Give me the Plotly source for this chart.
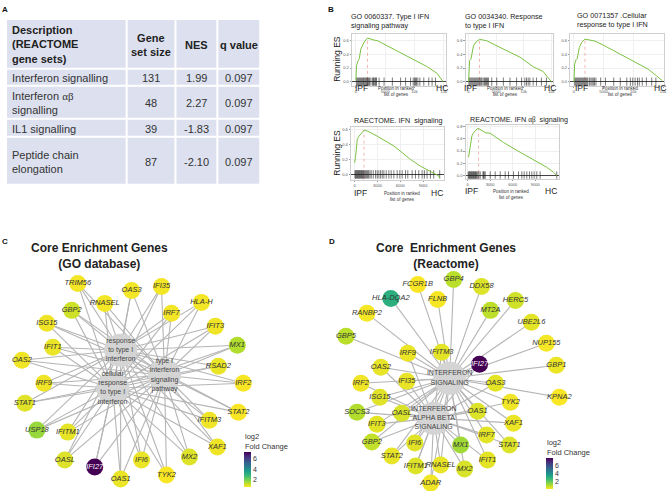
import plotly.graph_objects as go

W, H = 669, 491
FONT = "Liberation Sans, Arial, sans-serif"
TXT = "#333333"

# ---------------- Panel A data ----------------
table_header = ["Description<br>(REACTOME<br>gene sets)", "Gene<br>set size", "NES", "q value"]
gene_sets = ["Interferon signalling", "Interferon <span style='font-family:Liberation Serif'>αβ</span><br>signalling",
             "IL1 signalling", "Peptide chain<br>elongation"]
set_sizes = [131, 48, 39, 87]
nes_values = [1.99, 2.27, -1.83, -2.10]
q_values = [0.097, 0.097, 0.097, 0.097]

# ---------------- Panel B data ----------------
gsea_titles = ["GO 0060337. Type I IFN<br>signaling pathway",
               "GO 0034340. Response<br>to type I IFN",
               "GO 0071357 .Cellular<br>response to type I IFN",
               "RAECTOME. IFN\u00a0\u00a0signaling",
               "REACTOME. IFN <span style='font-family:Liberation Serif'>αβ</span>\u00a0\u00a0signaling"]

es1_x = [0, 110, 400, 570, 850, 1400, 1980, 2550, 3100, 3700, 4800, 7600, 10500, 12200, 13900, 14900]
es1_y = [0.02, 0.24, 0.31, 0.34, 0.48, 0.58, 0.64, 0.62, 0.61, 0.60, 0.55, 0.43, 0.29, 0.22, 0.12, 0.0]
hits1 = [110, 280, 450, 620, 790, 960, 1130, 1300, 1420, 1590, 1750, 1870, 1980, 2150, 2320, 2550,
         2830, 3000, 3110, 3280, 3400, 3510, 3960, 4810, 6230, 7640, 8490, 9340, 9790, 10020, 10190,
         10360, 10590, 10930, 11600, 12450, 13020, 13590]

es2_x = [0, 60, 180, 420, 600, 900, 1380, 1980, 2700, 3300, 4500, 6900, 9300, 11700, 13500, 15000]
es2_y = [0.0, 0.26, 0.31, 0.33, 0.40, 0.53, 0.585, 0.62, 0.61, 0.60, 0.55, 0.45, 0.36, 0.22, 0.15, 0.0]
hits2 = [60, 240, 420, 600, 780, 960, 1140, 1320, 1500, 1680, 1860, 2040, 2220, 2400, 2640, 2880,
         3060, 3240, 3420, 3600, 4200, 5100, 6300, 7500, 8700, 9600, 10200, 10500, 10800, 11100,
         11700, 12300, 13200, 14100]

es3_x = [0, 112, 336, 560, 896, 1288, 1848, 2408, 2968, 3528, 4928, 7728, 10528, 12488, 13888, 14896]
es3_y = [0.0, 0.26, 0.32, 0.34, 0.50, 0.575, 0.625, 0.615, 0.60, 0.595, 0.537, 0.405, 0.283, 0.185, 0.088, 0.015]
hits3 = [110, 280, 450, 620, 790, 960, 1130, 1300, 1470, 1640, 1810, 1980, 2150, 2320, 2600, 2850,
         3050, 3250, 3450, 3700, 4500, 5300, 6700, 7800, 8900, 9500, 9900, 10300, 10700, 11000,
         11500, 12200, 13100, 13800]

es4_x = [0, 131, 349, 568, 1004, 1223, 1659, 2970, 5153, 7336, 8646, 9956, 10611, 11048, 11179]
es4_y = [0.156, 0.24, 0.47, 0.51, 0.56, 0.59, 0.58, 0.51, 0.38, 0.20, 0.11, 0.036, 0.01, -0.02, -0.05]
hits4 = [44, 131, 218, 306, 393, 480, 568, 655, 742, 830, 917, 1004, 1092, 1179, 1310, 1441, 1572,
         1703, 1834, 2009, 2183, 2445, 2751, 2970, 3188, 3406, 3625, 3843, 4149, 4498, 4804, 5153,
         5590, 5939, 6245, 6682, 6987, 7555, 7992, 8428, 8865, 9171, 9520, 9957, 10393, 11179]

es5_x = [133, 354, 576, 798, 1241, 1462, 1905, 2349, 3013, 4786, 7001, 9217, 10546, 11433, 11876]
es5_y = [0.30, 0.51, 0.65, 0.70, 0.76, 0.77, 0.73, 0.70, 0.69, 0.54, 0.38, 0.22, 0.135, 0.054, 0.0]
hits5 = [89, 177, 266, 354, 443, 532, 620, 709, 797, 886, 975, 1063, 1152, 1240, 1373, 1506, 1683,
         2038, 2126, 2215, 2348, 3012, 3677, 4341, 5006, 5449, 6113, 6778, 7221, 7531, 7886, 8240,
         8550, 8860, 9215, 9658, 11873]

gsea_x_ticks = [[0, 5000, 10000, 15000]] * 3 + [[0, 3000, 6000, 9000]] * 2
gsea_y_ticks = [[0.0, 0.2, 0.4, 0.6]] * 4 + [[0.0, 0.2, 0.4, 0.6, 0.8]]

# ---------------- Panel C data ----------------
go_terms = ["response<br>to type I<br>interferon", "type I<br>interferon<br>signaling<br>pathway",
            "cellular<br>response<br>to type I<br>interferon"]
go_genes = ["TRIM56", "OAS3", "IFI35", "RNASEL", "HLA-H", "GBP2", "IRF7", "ISG15", "IFIT3", "MX1",
            "IFIT1", "OAS2", "RSAD2", "IRF9", "IRF2", "STAT1", "STAT2", "IFITM3", "USP18", "IFITM1",
            "XAF1", "MX2", "OASL", "IFI27", "IFI6", "TYK2", "OAS1"]
go_fc = [0.6, 0.6, 0.6, 0.6, 0.6, 1.0, 0.6, 0.65, 0.65, 1.3,
         0.7, 0.65, 0.7, 0.65, 0.55, 0.8, 0.55, 0.65, 1.55, 0.75,
         0.65, 0.85, 0.85, 7.3, 0.7, 0.55, 0.7]
go_fc_limits = [0.5, 7.3]

# ---------------- Panel D data ----------------
reactome_terms = ["INTERFERON<br>SIGNALING", "INTERFERON<br>ALPHA BETA<br>SIGNALING"]
reactome_genes = ["FCGR1B", "GBP4", "DDX58", "HLA-DQA2", "FLNB", "HERC5", "MT2A", "RANBP2", "UBE2L6",
                  "GBP5", "NUP155", "IRF9", "IFITM3", "IFI27", "GBP1", "OAS2", "IRF2", "IFI35", "OAS3",
                  "KPNA2", "ISG15", "TYK2", "SOCS3", "OASL", "OAS1", "XAF1", "IFIT3", "IRF7", "GBP2",
                  "STAT1", "IFI6", "MX1", "STAT2", "IFIT1", "IFITM1", "RNASEL", "MX2", "ADAR"]
reactome_fc = [0.15, 0.9, 0.5, 3.0, 0.2, 0.65, 0.85, 0.2, 0.4,
               0.9, 0.2, 0.3, 0.4, 7.85, 0.3, 0.35, 0.25, 0.35, 0.4,
               0.15, 0.45, 0.25, 1.0, 0.55, 0.5, 0.3, 0.4, 0.4, 0.8,
               0.5, 0.45, 1.2, 0.35, 0.4, 0.5, 0.35, 0.55, 0.25]
reactome_fc_limits = [0.1, 7.85]
alpha_beta_members = ["IRF9", "IFITM3", "IFI27", "OAS2", "IRF2", "IFI35", "OAS3", "ISG15", "TYK2",
                      "SOCS3", "OASL", "OAS1", "XAF1", "IFIT3", "IRF7", "GBP2", "STAT1", "IFI6", "MX1",
                      "STAT2", "IFIT1", "IFITM1", "RNASEL", "MX2", "ADAR"]

# ---------------- layout (pixel positions) ----------------
c_pos = {"TRIM56": (78, 283), "OAS3": (132, 290), "IFI35": (162, 286), "RNASEL": (105, 303),
         "HLA-H": (202, 302), "GBP2": (72, 310), "IRF7": (172, 313), "ISG15": (47, 323),
         "IFIT3": (216, 326), "MX1": (238, 345), "IFIT1": (53, 347), "OAS2": (22, 360),
         "RSAD2": (219, 366), "IRF9": (44, 383), "IRF2": (244, 383), "STAT1": (25, 403),
         "STAT2": (239, 412), "IFITM3": (210, 420), "USP18": (37, 430), "IFITM1": (68, 432),
         "XAF1": (218, 447), "MX2": (190, 457), "OASL": (65, 460), "IFI27": (95, 467),
         "IFI6": (142, 460), "TYK2": (167, 475), "OAS1": (121, 479)}
c_hub_pos = [(121, 350), (165, 375), (113, 388)]
d_pos = {"FCGR1B": (419, 284), "GBP4": (455, 279), "DDX58": (483, 286), "HLA-DQA2": (392, 298),
         "FLNB": (439, 299), "HERC5": (517, 300), "MT2A": (492, 310), "RANBP2": (368, 313),
         "UBE2L6": (533, 322), "GBP5": (347, 336), "NUP155": (548, 343), "IRF9": (409, 353),
         "IFITM3": (443, 352), "IFI27": (481, 364), "GBP1": (558, 365), "OAS2": (382, 367),
         "IRF2": (362, 383), "IFI35": (408, 381), "OAS3": (497, 383), "KPNA2": (561, 397),
         "ISG15": (381, 397), "TYK2": (512, 402), "SOCS3": (358, 412), "OASL": (403, 413),
         "OAS1": (479, 411), "XAF1": (515, 423), "IFIT3": (378, 424), "IRF7": (488, 435),
         "GBP2": (373, 442), "STAT1": (511, 445), "IFI6": (416, 443), "MX1": (462, 445),
         "STAT2": (393, 456), "IFIT1": (489, 460), "IFITM1": (417, 466), "RNASEL": (442, 465),
         "MX2": (466, 469), "ADAR": (432, 483)}
d_hub_pos = [(451, 378), (435, 418)]

fig = go.Figure()
annotations = []
shapes = []


def ann(text, x, y, size, xanchor="center", yanchor="middle", bold=False, color=TXT,
        angle=0, align="center"):
    annotations.append(dict(text=text, x=x / W, y=1 - y / H, xref="paper", yref="paper",
                            xanchor=xanchor, yanchor=yanchor, showarrow=False, textangle=angle,
                            align=align, borderpad=0,
                            font=dict(family=FONT, size=size, color=color,
                                      weight="bold" if bold else "normal")))


# ---------------- Panel A: table ----------------
cols = [(7, 126), (128, 175), (177, 217), (219, 260)]
rows = [(19, 67), (69, 84), (86, 117), (119, 135), (137, 183)]
for (t, b) in rows:
    for (l, r) in cols:
        shapes.append(dict(type="rect", xref="paper", yref="paper", x0=l / W, x1=r / W,
                           y0=1 - b / H, y1=1 - t / H, fillcolor="#dde1ef", line=dict(width=0),
                           layer="below"))
hdr_t, hdr_b = rows[0]
for j, txt in enumerate(table_header):
    yc = (hdr_t + hdr_b) / 2 + 1
    if j == 0:
        ann(txt, cols[0][0] + 4, yc, 11, xanchor="left", bold=True, color="#222", align="left")
    else:
        ann(txt, (cols[j][0] + cols[j][1]) / 2, yc, 11, bold=True, color="#222")
for i in range(len(gene_sets)):
    t, b = rows[i + 1]
    yc = (t + b) / 2 + 1
    ann(gene_sets[i], cols[0][0] + 4, yc, 11, xanchor="left", align="left")
    ann(str(set_sizes[i]), (cols[1][0] + cols[1][1]) / 2, yc, 11)
    ann(f"{nes_values[i]:.2f}", (cols[2][0] + cols[2][1]) / 2, yc, 11)
    ann(f"{q_values[i]:.3f}", (cols[3][0] + cols[3][1]) / 2, yc, 11)

# ---------------- Panel B: GSEA plots ----------------
es_x = [es1_x, es2_x, es3_x, es4_x, es5_x]
es_y = [es1_y, es2_y, es3_y, es4_y, es5_y]
hits = [hits1, hits2, hits3, hits4, hits5]
boxes = [(353, 447, 33, 85), (467, 555, 33, 85), (572, 666, 33, 85),
         (352, 445, 126, 179), (467, 561, 124, 178)]
xranges = [[-682, 15341], [-542, 15361], [-621, 15168], [-485, 11700], [-265, 12212]]
yranges = [[-0.06, 0.70], [-0.06, 0.70], [-0.06, 0.70], [-0.07, 0.636], [-0.05, 0.83]]

layout_axes = {}
for k in range(5):
    n = "" if k == 0 else str(k + 1)
    xa, ya = "x" + n, "y" + n
    l, r, t, b = boxes[k]
    common = dict(showline=True, mirror=True, linecolor="#cfcfcf", linewidth=0.8,
                  showgrid=True, gridcolor="#efefef", gridwidth=0.5,
                  tickfont=dict(family=FONT, size=4, color="#555"),
                  ticks="outside", ticklen=1.5, tickcolor="#999", tickwidth=0.5, fixedrange=True)
    layout_axes["xaxis" + n] = dict(domain=[l / W, r / W], range=xranges[k], anchor=ya,
                                    tickvals=gsea_x_ticks[k], zeroline=False, **common)
    layout_axes["yaxis" + n] = dict(domain=[1 - b / H, 1 - t / H], range=yranges[k], anchor=xa,
                                    tickvals=gsea_y_ticks[k], tickformat=".1f", zeroline=True,
                                    zerolinecolor="#444", zerolinewidth=0.7, **common)
    imax = max(range(len(es_y[k])), key=lambda i: es_y[k][i])
    fig.add_trace(go.Scatter(x=[es_x[k][imax], es_x[k][imax]], y=[yranges[k][0], es_y[k][imax]],
                             mode="lines", line=dict(color="#f3a3a3", width=0.8, dash="dot"),
                             xaxis=xa, yaxis=ya, showlegend=False, hoverinfo="skip"))
    fig.add_trace(go.Scatter(x=hits[k], y=[0] * len(hits[k]), mode="markers",
                             marker=dict(symbol="line-ns", size=6, line=dict(width=0.6, color="#222")),
                             xaxis=xa, yaxis=ya, showlegend=False, hoverinfo="skip"))
    fig.add_trace(go.Scatter(x=es_x[k], y=es_y[k], mode="lines",
                             line=dict(color="#7cc242", width=1),
                             xaxis=xa, yaxis=ya, showlegend=False, hoverinfo="skip"))

TS = 7.2
ann(gsea_titles[0], 351, 10, TS, xanchor="left", yanchor="top", color="#222", align="left")
ann(gsea_titles[1], 465, 10, TS, xanchor="left", yanchor="top", color="#222", align="left")
ann(gsea_titles[2], 578, 9, TS, xanchor="left", yanchor="top", color="#222", align="left")
ann(gsea_titles[3], 400, 120, TS, color="#222")
ann(gsea_titles[4], 521, 119, TS, color="#222")
ann("Running ES", 338, 58, 8.5, angle=-90, color="#222")
ann("Running ES", 338, 152, 8.5, angle=-90, color="#222")
for (xi, xh, xp, yy) in [(363, 443, 397, 87), (472, 552, 507, 87), (583, 662, 622, 87),
                         (362, 438, 403, 192), (473, 553, 513, 190)]:
    ann("IPF", xi, yy, 8.5, color="#222")
    ann("HC", xh, yy, 8.5, color="#222")
    ann("Position in ranked<br>list of genes", xp, yy + 4, 4.5, color="#333")

ann("A", 5, 9, 8, bold=True, color="#111")
ann("B", 332, 9, 8, bold=True, color="#111")
ann("C", 5, 241, 8, bold=True, color="#111")
ann("D", 333, 241, 8, bold=True, color="#111")

# ---------------- Panels C & D: networks ----------------
ann("Core Enrichment Genes<br>(GO database)", 100, 256, 12, bold=True, color="#222")
ann("Core\u00a0\u00a0Enrichment Genes<br>(Reactome)", 447, 256, 12, bold=True, color="#222")


def network(genes, fc, limits, pos, terms, hub_pos, membership, xa, ya, cb_x, cb_top, cb_len):
    ex, ey = [], []
    for gname in genes:
        gx, gy = pos[gname]
        for hi in range(len(terms)):
            if gname in membership[hi]:
                hx, hy = hub_pos[hi]
                ex += [gx, hx, None]
                ey += [gy, hy, None]
    fig.add_trace(go.Scatter(x=ex, y=ey, mode="lines", line=dict(color="#b5b5b5", width=1.1),
                             xaxis=xa, yaxis=ya, showlegend=False, hoverinfo="skip"))
    fig.add_trace(go.Scatter(x=[p[0] for p in hub_pos], y=[p[1] for p in hub_pos],
                             mode="markers+text", text=terms, textposition="middle center",
                             marker=dict(size=33, color="#d4d4d4"),
                             textfont=dict(family=FONT, size=7, color="#444"),
                             cliponaxis=False, xaxis=xa, yaxis=ya, showlegend=False,
                             hoverinfo="skip"))
    fig.add_trace(go.Scatter(
        x=[pos[gname][0] for gname in genes], y=[pos[gname][1] for gname in genes],
        mode="markers+text", text=genes, textposition="middle center",
        marker=dict(size=17, color=fc, colorscale="Viridis", reversescale=True,
                    cmin=limits[0], cmax=limits[1], showscale=True,
                    colorbar=dict(x=cb_x / W, xanchor="left", y=1 - cb_top / H, yanchor="top",
                                  len=cb_len, lenmode="pixels", thickness=7, thicknessmode="pixels",
                                  tickvals=[2, 4, 6], ticks="", outlinewidth=0, xpad=0, ypad=0,
                                  tickfont=dict(family=FONT, size=7, color="#333"))),
        textfont=dict(family=FONT, size=7.5, style="italic",
                      color=["#ffffff" if v > 5 else "#333333" for v in fc]),
        cliponaxis=False, xaxis=xa, yaxis=ya, showlegend=False, hoverinfo="skip"))
    ann("log2<br>Fold Change", cb_x, cb_top - 11, 7.5, xanchor="left", align="left", color="#333")


network(go_genes, go_fc, go_fc_limits, c_pos, go_terms, c_hub_pos,
        [go_genes, go_genes, go_genes], "x6", "y6", 245, 452, 35)
network(reactome_genes, reactome_fc, reactome_fc_limits, d_pos, reactome_terms, d_hub_pos,
        [reactome_genes, alpha_beta_members], "x7", "y7", 548, 458, 31)

net_y = dict(domain=[0, 1 - 265 / H], range=[491, 265], visible=False, fixedrange=True)
layout_axes["xaxis6"] = dict(domain=[0, 335 / W], range=[0, 335], visible=False, anchor="y6",
                             fixedrange=True)
layout_axes["yaxis6"] = dict(anchor="x6", **net_y)
layout_axes["xaxis7"] = dict(domain=[335 / W, 1], range=[335, 669], visible=False, anchor="y7",
                             fixedrange=True)
layout_axes["yaxis7"] = dict(anchor="x7", **net_y)

fig.update_layout(width=W, height=H, margin=dict(l=0, r=0, t=0, b=0),
                  paper_bgcolor="white", plot_bgcolor="white",
                  font=dict(family=FONT, color=TXT),
                  annotations=annotations, shapes=shapes, showlegend=False, **layout_axes)
fig.write_html("out.html", config={"displayModeBar": False},
               post_script="document.body.style.margin='0';document.body.style.padding='0';")
